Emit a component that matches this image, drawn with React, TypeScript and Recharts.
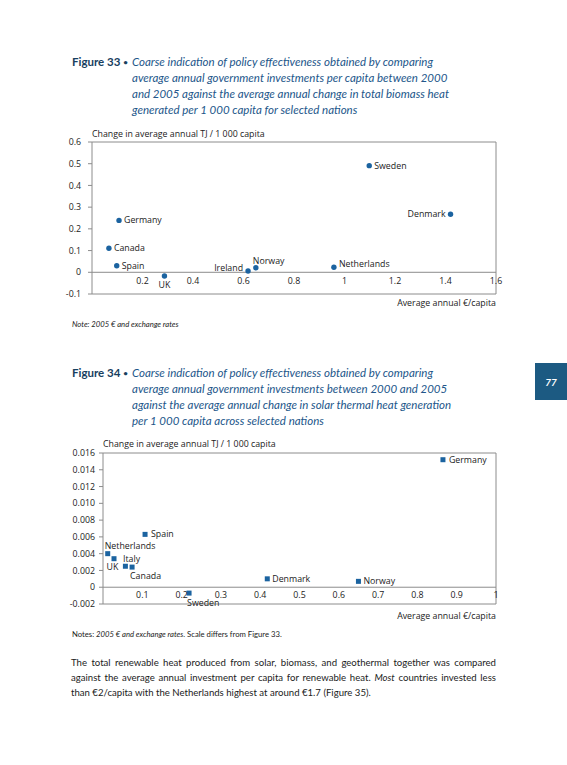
import React from 'react';
import { ScatterChart, Scatter, XAxis, YAxis, ReferenceArea, ReferenceLine } from 'recharts';

// ---------- Figure 33: biomass ----------
const biomassCountries = ['Germany', 'Canada', 'Spain', 'UK', 'Ireland', 'Norway', 'Sweden', 'Denmark', 'Netherlands'];
const biomassInvestment = [0.107, 0.067, 0.098, 0.287, 0.618, 0.649, 1.098, 1.42, 0.958];
const biomassHeatChange = [0.239, 0.111, 0.03, -0.017, 0.006, 0.021, 0.491, 0.267, 0.023];
const biomassXTicks = [0.2, 0.4, 0.6, 0.8, 1, 1.2, 1.4, 1.6];
const biomassYTicks = [-0.1, 0, 0.1, 0.2, 0.3, 0.4, 0.5, 0.6];

// ---------- Figure 34: solar thermal ----------
const solarCountries = ['Germany', 'Spain', 'Netherlands', 'Italy', 'UK', 'Canada', 'Sweden', 'Denmark', 'Norway'];
const solarInvestment = [0.865, 0.107, 0.012, 0.028, 0.057, 0.074, 0.219, 0.418, 0.65];
const solarHeatChange = [0.0152, 0.0063, 0.004, 0.0034, 0.0025, 0.0024, -0.0007, 0.001, 0.0007];
const solarXTicks = [0.1, 0.2, 0.3, 0.4, 0.5, 0.6, 0.7, 0.8, 0.9, 1];
const solarYTicks = [-0.002, 0, 0.002, 0.004, 0.006, 0.008, 0.01, 0.012, 0.014, 0.016];

const biomassData = biomassCountries.map((name, i) => ({ name, x: biomassInvestment[i], y: biomassHeatChange[i] }));
const solarData = solarCountries.map((name, i) => ({ name, x: solarInvestment[i], y: solarHeatChange[i] }));

// label placement (dx, dy baseline, anchor) — layout only
type Place = [number, number, 'start' | 'middle' | 'end'];
const biomassPlacement: Record<string, Place> = {
  Germany: [5, 3, 'start'],
  Canada: [5, 3, 'start'],
  Spain: [5, 3, 'start'],
  UK: [0, 12, 'middle'],
  Ireland: [-5, 0, 'end'],
  Norway: [-3, -4, 'start'],
  Sweden: [5, 3, 'start'],
  Denmark: [-5, 3, 'end'],
  Netherlands: [5, 0, 'start'],
};
const solarPlacement: Record<string, Place> = {
  Germany: [6, 3, 'start'],
  Spain: [6, 3, 'start'],
  Netherlands: [-3, -4.5, 'start'],
  Italy: [9, 3, 'start'],
  UK: [-7, 4, 'end'],
  Canada: [-2, 11.5, 'start'],
  Sweden: [-2, 12.5, 'start'],
  Denmark: [5, 3, 'start'],
  Norway: [5, 3, 'start'],
};

const CHART_FONT = '"Open Sans", "Noto Sans", sans-serif';
const TEXT_FONT = 'Lato, "Open Sans", sans-serif';
const MARK = '#1b63a0';
const BOX = '#8c8c8c';
const INK = '#222222';
const FS = 8.8;

type ChartProps = {
  data: { name: string; x: number; y: number }[];
  xDomain: [number, number];
  yDomain: [number, number];
  xTicks: number[];
  yTicks: number[];
  fmtY: (v: number) => string;
  marker: 'circle' | 'square';
  placement: Record<string, Place>;
  top: number;
  height: number;
  marginTop: number;
  plotLeft: number;
  plotHeight: number;
  yGap: number;
  xLabelGap: number;
};

function PolicyScatter(p: ChartProps) {
  const xAxisHeight = p.height - p.marginTop - p.plotHeight;
  const zeroShift = (p.plotHeight * (0 - p.yDomain[0])) / (p.yDomain[1] - p.yDomain[0]);
  const XTick = (props: any) => {
    const { x, y, payload } = props;
    return (
      <text x={x} y={y - zeroShift + p.xLabelGap} textAnchor="middle" fontSize={FS} fontFamily={CHART_FONT} fill={INK}>
        {String(payload.value)}
      </text>
    );
  };
  const shape = (props: any) => {
    const { cx, cy, payload } = props;
    const pl = p.placement[payload.name] || [5, 3, 'start'];
    return (
      <g>
        {p.marker === 'circle' ? (
          <circle cx={cx} cy={cy} r={2.7} fill={MARK} />
        ) : (
          <rect x={cx - 2.5} y={cy - 2.5} width={5} height={5} fill={MARK} />
        )}
        <text x={cx + pl[0]} y={cy + pl[1]} textAnchor={pl[2]} fontSize={FS} fontFamily={CHART_FONT} fill={INK}>
          {payload.name}
        </text>
      </g>
    );
  };
  return (
    <div style={{ position: 'absolute', left: 0, top: p.top }}>
      <ScatterChart
        width={567}
        height={p.height}
        margin={{ top: p.marginTop, right: 71, bottom: 0, left: p.plotLeft - 40 }}
        style={{ overflow: 'visible' }}
      >
        <XAxis
          dataKey="x"
          type="number"
          domain={p.xDomain}
          ticks={p.xTicks}
          interval={0}
          axisLine={false}
          tickLine={false}
          tickSize={0}
          tickMargin={0}
          height={xAxisHeight}
          tick={<XTick />}
        />
        <YAxis
          dataKey="y"
          type="number"
          domain={p.yDomain}
          ticks={p.yTicks}
          interval={0}
          width={40}
          axisLine={false}
          tickLine={{ stroke: BOX }}
          tickSize={4}
          tickMargin={p.yGap}
          tickFormatter={p.fmtY}
          tick={{ fontSize: FS, fontFamily: CHART_FONT, fill: INK }}
        />
        <ReferenceArea
          x1={p.xDomain[0]}
          x2={p.xDomain[1]}
          y1={p.yDomain[0]}
          y2={p.yDomain[1]}
          fill="none"
          fillOpacity={0}
          stroke={BOX}
          strokeWidth={1}
        />
        <ReferenceLine y={0} stroke={BOX} strokeWidth={1} />
        <Scatter data={p.data} isAnimationActive={false} shape={shape} />
      </ScatterChart>
    </div>
  );
}

const abs = (left: number, top: number, extra: React.CSSProperties = {}): React.CSSProperties => ({
  position: 'absolute',
  left,
  top,
  whiteSpace: 'nowrap',
  ...extra,
});

const TITLE_BOLD = '#17405f';
const TITLE_IT = '#22568a';

export default function App() {
  const figTitle = (top: number, num: string, lines: string[]) => (
    <>
      <div style={abs(72, top, { fontFamily: TEXT_FONT, fontWeight: 700, fontSize: 11.5, lineHeight: '16px', color: TITLE_BOLD })}>
        {`Figure ${num} `}
        <span style={{ fontSize: 8, verticalAlign: '1px' }}>{'\u2022'}</span>
      </div>
      <div style={abs(132, top, { fontFamily: TEXT_FONT, fontStyle: 'italic', fontSize: 11.5, lineHeight: '16px', color: TITLE_IT })}>
        {lines.map((l, i) => (
          <div key={i}>{l}</div>
        ))}
      </div>
    </>
  );
  const chartText: React.CSSProperties = { fontFamily: CHART_FONT, fontSize: FS, lineHeight: '12px', color: INK };
  return (
    <div style={{ position: 'absolute', left: 0, top: 0, width: 567, height: 765, background: '#fff', overflow: 'hidden' }}>
      <style>{'body{margin:0}'}</style>
      {figTitle(54, '33', [
        'Coarse indication of policy effectiveness obtained by comparing',
        'average annual government investments per capita between 2000',
        'and 2005 against the average annual change in total biomass heat',
        'generated per 1 000 capita for selected nations',
      ])}
      <div style={abs(92, 128, chartText)}>Change in average annual TJ / 1 000 capita</div>
      <PolicyScatter
        data={biomassData}
        xDomain={[0, 1.6]}
        yDomain={[-0.1, 0.6]}
        xTicks={biomassXTicks}
        yTicks={biomassYTicks}
        fmtY={(v) => (v === 0 ? '0' : v.toFixed(1))}
        marker="circle"
        placement={biomassPlacement}
        top={125}
        height={190}
        marginTop={17}
        plotLeft={92}
        plotHeight={152}
        yGap={7}
        xLabelGap={11.7}
      />
      <div style={abs(0, 297, { ...chartText, width: 496, textAlign: 'right' })}>Average annual €/capita</div>
      <div style={abs(72, 319, { fontFamily: TEXT_FONT, fontStyle: 'italic', fontSize: 7.7, lineHeight: '10px', color: INK })}>
        Note: 2005 € and exchange rates
      </div>

      {figTitle(365, '34', [
        'Coarse indication of policy effectiveness obtained by comparing',
        'average annual government investments between 2000 and 2005',
        'against the average annual change in solar thermal heat generation',
        'per 1 000 capita across selected nations',
      ])}
      <div style={{ position: 'absolute', left: 535, top: 363, width: 32, height: 37, background: '#1c5a82', color: '#fff', fontFamily: TEXT_FONT, fontWeight: 700, fontStyle: 'italic', fontSize: 10, display: 'flex', alignItems: 'center', justifyContent: 'center' }}>
        77
      </div>
      <div style={abs(103, 438, chartText)}>Change in average annual TJ / 1 000 capita</div>
      <PolicyScatter
        data={solarData}
        xDomain={[0, 1]}
        yDomain={[-0.002, 0.016]}
        xTicks={solarXTicks}
        yTicks={solarYTicks}
        fmtY={(v) => (v === 0 ? '0' : v.toFixed(3))}
        marker="square"
        placement={solarPlacement}
        top={440}
        height={180}
        marginTop={13}
        plotLeft={103}
        plotHeight={151}
        yGap={4}
        xLabelGap={10.7}
      />
      <div style={abs(0, 610, { ...chartText, width: 496, textAlign: 'right' })}>Average annual €/capita</div>
      <div style={abs(72, 629, { fontFamily: TEXT_FONT, fontSize: 7.7, lineHeight: '10px', color: INK })}>
        Notes: <i>2005 € and exchange rates</i>. Scale differs from Figure 33.
      </div>

      <div
        style={{
          position: 'absolute',
          left: 71,
          top: 655,
          width: 425,
          fontFamily: TEXT_FONT,
          fontSize: 9.6,
          lineHeight: '15px',
          color: INK,
          textAlign: 'justify',
        }}
      >
        The total renewable heat produced from solar, biomass, and geothermal together was compared against the
        average annual investment per capita for renewable heat. <i>Most</i> countries invested less than €2/capita
        with the Netherlands highest at around €1.7 (Figure 35).
      </div>
    </div>
  );
}
